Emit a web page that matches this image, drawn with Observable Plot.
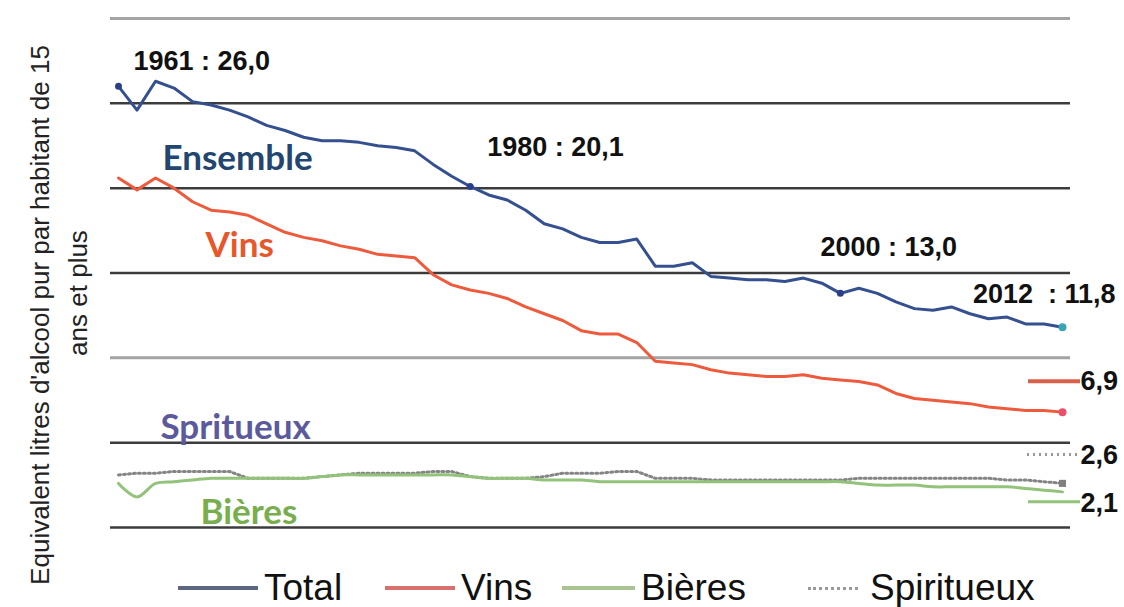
<!DOCTYPE html>
<html><head><meta charset="utf-8">
<script src="https://cdn.jsdelivr.net/npm/d3@7"></script>
<script src="https://cdn.jsdelivr.net/npm/@observablehq/plot@0.6"></script>
<style>
body{margin:0;background:#fff;font-family:"Liberation Sans",Arial,sans-serif;}
#chart{position:relative;width:1124px;height:607px;overflow:hidden}
#chart svg{position:absolute;top:0;left:0}
#legend{position:absolute;top:567px;left:0;width:1124px;height:40px}
.item{position:absolute;top:0;display:flex;align-items:center;height:42px;font-size:37px;color:#111;white-space:nowrap}
.sw{height:0;border-top-width:4px;border-top-style:solid;margin-right:6px}
</style></head><body><div id="chart"></div>
<script>
const years = [1961,1962,1963,1964,1965,1966,1967,1968,1969,1970,1971,1972,1973,1974,1975,1976,1977,1978,1979,1980,
  1981,1982,1983,1984,1985,1986,1987,1988,1989,1990,1991,1992,1993,1994,1995,1996,1997,1998,1999,2000,
  2001,2002,2003,2004,2005,2006,2007,2008,2009,2010,2011,2012];
const total = [26.0,24.6,26.3,25.9,25.1,24.9,24.6,24.2,23.7,23.4,23.0,22.8,22.8,22.7,22.5,22.4,22.2,21.4,20.7,20.1,
  19.6,19.3,18.7,17.9,17.6,17.1,16.8,16.8,17.0,15.4,15.4,15.6,14.8,14.7,14.6,14.6,14.5,14.7,14.4,13.8,
  14.1,13.8,13.3,12.9,12.8,13.0,12.6,12.3,12.4,12.0,12.0,11.8];
const vins = [20.6,19.9,20.6,20.0,19.2,18.7,18.6,18.4,17.9,17.4,17.1,16.9,16.6,16.4,16.1,16.0,15.9,14.9,14.3,14.0,
  13.8,13.5,13.0,12.6,12.2,11.6,11.4,11.4,10.9,9.8,9.7,9.6,9.3,9.1,9.0,8.9,8.9,9.0,8.8,8.7,
  8.6,8.4,7.9,7.6,7.5,7.4,7.3,7.1,7.0,6.9,6.9,6.8];
const bieres = [2.6,1.8,2.6,2.7,2.8,2.9,2.9,2.9,2.9,2.9,2.9,3.0,3.1,3.1,3.1,3.1,3.1,3.1,3.1,3.0,
  2.9,2.9,2.9,2.8,2.8,2.8,2.7,2.7,2.7,2.7,2.7,2.7,2.7,2.7,2.7,2.7,2.7,2.7,2.7,2.7,
  2.6,2.5,2.5,2.5,2.4,2.4,2.4,2.4,2.4,2.3,2.2,2.1];
const spiritueux = [3.1,3.2,3.2,3.3,3.3,3.3,3.3,2.9,2.9,2.9,2.9,3.0,3.1,3.2,3.2,3.2,3.2,3.3,3.3,3.0,
  2.9,2.9,2.9,3.0,3.2,3.2,3.2,3.3,3.3,2.9,2.9,2.9,2.8,2.8,2.8,2.8,2.8,2.8,2.8,2.8,
  2.9,2.9,2.9,2.9,2.9,2.9,2.9,2.9,2.8,2.8,2.7,2.6];
const gridDark = [0, 5, 15, 20, 25];
const gridLight = [10, 30];
const highlightYears = [1961, 1980, 2000];
const annotationLabels = ["1961 : 26,0", "1980 : 20,1", "2000 : 13,0", "2012\u00a0 : 11,8"];
const endLabels = ["6,9", "2,6", "2,1"];
const axisLines = ["Equivalent litres d'alcool pur par habitant de 15", "ans et plus"];
const legendItems = ["Total", "Vins", "Bières", "Spiritueux"];

const rows = years.map((year, i) => ({year, total: total[i], vins: vins[i], bieres: bieres[i], spiritueux: spiritueux[i]}));
const last = rows[rows.length - 1];
const byYear = y => rows.find(r => r.year === y);

const C = {total: "#34508f", vins: "#ee5a3c", bieres: "#93c27a", spirit: "#858585"};
const bold = {fontFamily: "Liberation Sans, Arial, sans-serif", fontWeight: "bold", fontSize: 27, fill: "#111"};
const lbl = {fontFamily: "Lato, sans-serif", fontWeight: "bold", fontSize: 35, frameAnchor: "top-left", textAnchor: "start", lineAnchor: "middle"};

const plot = Plot.plot({
  width: 1124,
  height: 607,
  marginTop: 18,
  marginBottom: 80,
  marginLeft: 118,
  marginRight: 62,
  x: {domain: [1961, 2012], axis: null},
  y: {domain: [0, 30], axis: null},
  style: {background: "transparent"},
  marks: [
    Plot.ruleY(gridLight, {stroke: "#a3a3a3", strokeWidth: 3, insetLeft: -8, insetRight: -8}),
    Plot.ruleY(gridDark, {stroke: "#3c3c3c", strokeWidth: 2.5, insetLeft: -8, insetRight: -8}),
    Plot.line(rows, {x: "year", y: "spiritueux", stroke: C.spirit, strokeWidth: 3, strokeDasharray: "2,3"}),
    Plot.line(rows, {x: "year", y: "bieres", stroke: C.bieres, strokeWidth: 3, curve: "catmull-rom"}),
    Plot.line(rows, {x: "year", y: "vins", stroke: C.vins, strokeWidth: 3}),
    Plot.line(rows, {x: "year", y: "total", stroke: C.total, strokeWidth: 3}),
    Plot.dot(highlightYears.map(byYear), {x: "year", y: "total", r: 3.5, fill: "#2a3f8a"}),
    Plot.dot([last], {x: "year", y: "total", r: 4, fill: "#3aa3b5"}),
    Plot.dot([last], {x: "year", y: "vins", r: 4, fill: "#ea4f6c"}),
    Plot.dot([last], {x: "year", y: "spiritueux", r: 4, symbol: "square", fill: "#808080"}),
    // value annotations for Total
    Plot.text([byYear(1961)], {x: "year", y: "total", text: () => annotationLabels[0], textAnchor: "start", dx: 15, dy: -25, ...bold}),
    Plot.text([byYear(1980)], {x: "year", y: "total", text: () => annotationLabels[1], textAnchor: "start", dx: 17, dy: -39, ...bold}),
    Plot.text([byYear(2000)], {x: "year", y: "total", text: () => annotationLabels[2], textAnchor: "start", dx: -20, dy: -46, ...bold}),
    Plot.text([last], {x: "year", y: "total", text: () => annotationLabels[3], textAnchor: "end", dx: 53, dy: -33, ...bold}),
    // end labels with short lines
    Plot.ruleY([last], {y: "vins", x1: "year", x2: "year", insetLeft: -34, insetRight: -18, dy: -31, stroke: "#d9604a", strokeWidth: 4}),
    Plot.ruleY([last], {y: "spiritueux", x1: "year", x2: "year", insetLeft: -35, insetRight: -15, dy: -29, stroke: "#999", strokeWidth: 3, strokeDasharray: "2,4"}),
    Plot.ruleY([last], {y: "bieres", x1: "year", x2: "year", insetLeft: -34, insetRight: -18, dy: 10, stroke: "#93c27a", strokeWidth: 3}),
    Plot.text([last], {x: "year", y: "vins", text: () => endLabels[0], textAnchor: "start", dx: 18, dy: -31, ...bold}),
    Plot.text([last], {x: "year", y: "spiritueux", text: () => endLabels[1], textAnchor: "start", dx: 18, dy: -28, ...bold}),
    Plot.text([last], {x: "year", y: "bieres", text: () => endLabels[2], textAnchor: "start", dx: 18, dy: 11, ...bold}),
    // series names
    Plot.text(["Ensemble"], {text: d => d, dx: 44, dy: 140, fill: "#22466f", ...lbl}),
    Plot.text(["Vins"], {text: d => d, dx: 87, dy: 227, fill: "#e8562c", ...lbl}),
    Plot.text(["Spritueux"], {text: d => d, dx: 42, dy: 409, fill: "#5b5a9c", ...lbl}),
    Plot.text(["Bières"], {text: d => d, dx: 82, dy: 494, fill: "#78ae4e", ...lbl}),
    // y axis label (two lines)
    Plot.text([axisLines[0]], {text: d => d, frameAnchor: "left", rotate: -90, dx: -78, dy: 42, fontSize: 26, fill: "#222", fontFamily: "Liberation Sans, Arial, sans-serif", textAnchor: "middle", lineAnchor: "middle"}),
    Plot.text([axisLines[1]], {text: d => d, frameAnchor: "left", rotate: -90, dx: -40, dy: 20, fontSize: 26, fill: "#222", fontFamily: "Liberation Sans, Arial, sans-serif", textAnchor: "middle", lineAnchor: "middle"})
  ]
});
const chart = document.getElementById("chart");
chart.appendChild(plot);

// legend placed in the bottom band below the plotted area
const legend = document.createElement("div");
legend.id = "legend";
const legendStyles = [
  {left: 178, w: 80, color: "#5b6781", style: "solid"},
  {left: 385, w: 70, color: "#d97070", style: "solid"},
  {left: 562, w: 73, color: "#a9c393", style: "solid"},
  {left: 808, w: 50, color: "#9a9a9a", style: "dotted", gap: 12}
];
legendItems.forEach((name, i) => {
  const s = legendStyles[i];
  const item = document.createElement("div");
  item.className = "item";
  item.style.left = s.left + "px";
  const sw = document.createElement("span");
  sw.className = "sw";
  sw.style.width = s.w + "px";
  sw.style.borderTopColor = s.color;
  sw.style.borderTopStyle = s.style;
  if (s.style === "dotted") { sw.style.borderTopWidth = "3px"; sw.style.marginRight = s.gap + "px"; }
  const t = document.createElement("span");
  t.textContent = name;
  item.appendChild(sw);
  item.appendChild(t);
  legend.appendChild(item);
});
chart.appendChild(legend);
</script>
</body></html>
